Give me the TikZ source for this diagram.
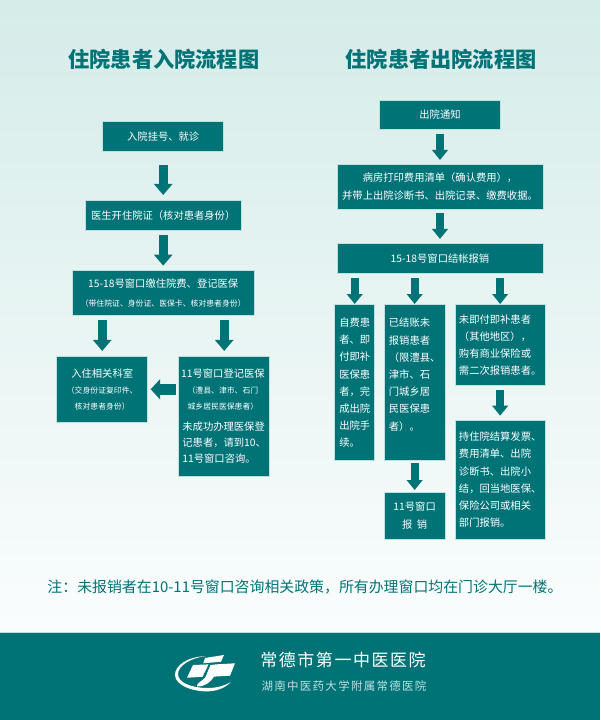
\documentclass[tikz,border=0pt]{standalone}
\usepackage{fontspec}
\setmainfont{Noto Sans CJK SC}
\newfontfamily\spacedfont[LetterSpace=9]{Noto Sans CJK SC}
\newfontfamily\widefont[LetterSpace=11]{Noto Sans CJK SC}
\usetikzlibrary{arrows.meta, positioning}
\definecolor{hospteal}{RGB}{0,115,119}
\definecolor{boxedge}{RGB}{190,225,222}
\definecolor{bgtop}{RGB}{213,236,233}
\definecolor{bgbottom}{RGB}{250,253,253}
\newcommand{\subtext}{\fontsize{7.85pt}{10pt}\selectfont}

\begin{document}
\begin{tikzpicture}[
    x=1pt, y=-1pt,
    node distance=40pt and 31pt,
    flowbox/.style={draw=boxedge, line width=0.5pt, fill=hospteal, text=white, inner sep=0pt, outer sep=0pt, align=center, font=\fontsize{10.3pt}{17.2pt}\selectfont},
    boxsize/.style 2 args={minimum width=#1pt, minimum height=#2pt},
    heading/.style={text=hospteal, font=\fontsize{21.2pt}{24pt}\selectfont\bfseries},
    blockarrow/.style={draw=hospteal, line width=9pt, -{Triangle[length=11pt, width=18pt]}, shorten <=4.3pt, shorten >=5pt},
    narrowarrow/.style={draw=hospteal, line width=8pt, -{Triangle[length=10pt, width=15.5pt]}, shorten <=4.3pt, shorten >=4.3pt}
]
    % Background
    \useasboundingbox (0,0) rectangle (600,720);
    \shade[top color=bgtop, bottom color=bgbottom] (0,0) rectangle (600,632);
    \fill[hospteal] (0,632) rectangle (600,720);
    \draw[boxedge, line width=0.8pt] (0,632) -- (600,632);

    % Titles
    \node[heading] (intitle) at (163.8,59.5) {住院患者入院流程图};
    \node[heading] (outtitle) at (441,59.5) {住院患者出院流程图};

    % Admission nodes
    \node[flowbox, boxsize={121}{30.7}] (guahao) at (163.2,136.3) {入院挂号、就诊};
    \node[flowbox, boxsize={155.7}{30.7}] (kaizheng) [below=48.3pt of guahao] {医生开住院证（核对患者身份）};
    \node[flowbox, boxsize={181.4}{45}] (jiaofei) [below=of kaizheng] {15-18号窗口缴住院费、登记医保\\[2pt]{\subtext（带住院证、身份证、医保卡、核对患者身份）}};
    \node[flowbox, boxsize={91}{66.7}, font=\fontsize{10.3pt}{16pt}\selectfont] (keshi) at (102.2,389.3) {入住相关科室\\{\subtext（交身份证复印件、}\\{\subtext 核对患者身份）}};
    \node[flowbox, boxsize={91}{120.7}, align=left, font=\fontsize{10.3pt}{16pt}\selectfont] (dengji) [right=31pt of keshi.north east, anchor=north west]
        {\makebox[81pt]{11号窗口登记医保}\\
         \makebox[81pt]{\subtext（澧县、津市、石门}\\
         \makebox[81pt]{\subtext 城乡居民医保患者）}\\[4.6pt]
         未成功办理医保登\\记患者，请到10、\\11号窗口咨询。};

    % Discharge nodes
    \node[flowbox, boxsize={120.6}{29.7}] (tongzhi) at (440,114.8) {出院通知};
    \node[flowbox, boxsize={206}{44.7}] (qingdan) [below=34.6pt of tongzhi] {病房打印费用清单（确认费用），\\并带上出院诊断书、出院记录、缴费收据。};
    \node[flowbox, boxsize={206}{30.4}] (jiezhang) [below=34.3pt of qingdan] {15-18号窗口结帐报销};
    \node[flowbox, boxsize={40}{156}, align=left] (zifei) at (354.7,382.7) {自费患\\者、即\\付即补\\医保患\\者，完\\成出院\\出院手\\续。};
    \node[flowbox, boxsize={60.7}{156}, align=left] (yijie) [right=9.6pt of zifei] {已结账未\\报销患者\\（限澧县、\\津市、石\\门城乡居\\民医保患\\者）。\\~};
    \node[flowbox, boxsize={90.3}{80.6}, align=left] (weiji) [right=10pt of yijie.north east, anchor=north west] {未即付即补患者\\（其他地区），\\购有商业保险或\\需二次报销患者。};
    \node[flowbox, boxsize={90.3}{119.3}, align=left] (chizhu) [below=34.7pt of weiji] {持住院结算发票、\\费用清单、出院\\诊断书、出院小\\结，回当地医保、\\保险公司或相关\\部门报销。};
    \node[flowbox, boxsize={60.7}{47.3}] (baoxiao) [below=31.3pt of yijie] {11号窗口\\报\ \ 销};

    % Note
    \node[text=hospteal, font=\fontsize{14.9pt}{18pt}\selectfont] (zhu) at (305,586.7) {注：未报销者在10-11号窗口咨询相关政策，所有办理窗口均在门诊大厅一楼。};

    % Arrows
    \draw[blockarrow, shorten <=13pt] (guahao) -- (kaizheng);
    \draw[blockarrow] (kaizheng) -- (jiaofei);
    \draw[blockarrow] (keshi |- jiaofei.south) -- (keshi);
    \draw[blockarrow] (dengji |- jiaofei.south) -- (dengji);
    \draw[blockarrow, line width=11pt, -{Triangle[length=9.5pt, width=20pt]}, shorten <=2.7pt, shorten >=3pt] (dengji.west |- keshi.east) -- (keshi.east);

    \draw[narrowarrow] (tongzhi) -- (qingdan);
    \draw[narrowarrow] (qingdan) -- (jiezhang);
    \draw[narrowarrow, shorten >=0.7pt] (zifei |- jiezhang.south) -- (zifei);
    \draw[narrowarrow, shorten >=0.7pt] (yijie |- jiezhang.south) -- (yijie);
    \draw[narrowarrow, shorten >=0.7pt] (weiji |- jiezhang.south) -- (weiji);
    \draw[narrowarrow] (weiji) -- (chizhu);
    \draw[narrowarrow, shorten <=2.3pt, shorten >=2pt] (yijie) -- (baoxiao);

    % Footer logo
    \fill[white] (206,656) .. controls (186,657) and (175,666) .. (175,675) .. controls (175,686) and (196,693) .. (212,691) .. controls (220,690) and (226,687) .. (231,682) .. controls (224,686) and (216,688) .. (208,688) .. controls (192,688) and (178,683) .. (178,674) .. controls (178,666) and (190,658) .. (206,656) -- cycle;
    \fill[white] (205,658) -- (224,655) -- (221,661.7) -- (203.3,663.3) -- cycle;
    \fill[white] (193,665) -- (208.5,664.4) -- (202.5,676.8) -- (187,677.7) -- cycle;
    \fill[white] (217,664.3) -- (235,663.3) -- (230,675.7) -- (212,676.7) -- cycle;
    \fill[white] (210.5,665) -- (217,664.3) -- (214,676.7) .. controls (211,682) and (204,687) .. (197,686.5) .. controls (196,683) and (203,681) .. (205.5,677) -- cycle;

    % Footer text
    \node[text=white, font=\fontsize{17pt}{20pt}\spacedfont] (yiyuan) at (343,660) {常德市第一中医医院};
    \node[text=boxedge, font=\fontsize{11.5pt}{14pt}\widefont] (daxue) at (344,686) {湖南中医药大学附属常德医院};
\end{tikzpicture}
\end{document}
